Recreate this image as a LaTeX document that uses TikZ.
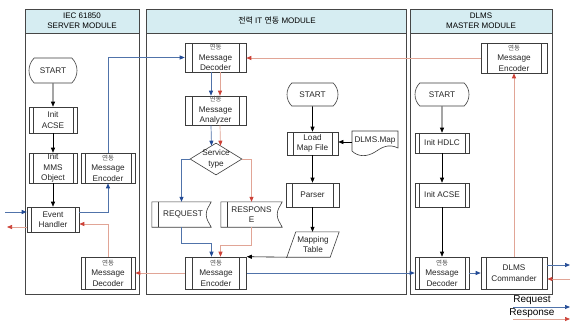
\documentclass[tikz,border=0pt]{standalone}
\usepackage{fontspec}
\setmainfont{Liberation Sans}
\newfontfamily\kr{Noto Sans CJK KR}
\usetikzlibrary{arrows.meta,shapes.misc,shapes.geometric,calc}
\definecolor{hdr}{RGB}{214,237,242}
\definecolor{frame}{RGB}{70,70,70}
\definecolor{boxc}{RGB}{60,60,60}
\definecolor{bline}{RGB}{80,115,170}
\definecolor{bhead}{RGB}{35,75,150}
\definecolor{rline}{RGB}{225,165,150}
\definecolor{rhead}{RGB}{205,65,55}
\definecolor{kgray}{RGB}{80,80,80}
\newcommand\yd{{\kr\fontsize{6.5}{7}\selectfont\color{kgray}연동}}
\tikzset{
  boxtext/.style={font=\fontsize{8.2}{10.5}\selectfont, align=center, text=black!85},
  proc/.style={draw=boxc, line width=0.6pt, rectangle, inner sep=0pt, boxtext,
    path picture={\draw[boxc, line width=0.5pt]
      ([xshift=#1]path picture bounding box.north west) -- ([xshift=#1]path picture bounding box.south west)
      ([xshift=-#1]path picture bounding box.north east) -- ([xshift=-#1]path picture bounding box.south east);}},
  proc/.default=5pt,
  term/.style={draw=boxc, line width=0.6pt, rounded rectangle, rounded rectangle arc length=90,
    inner sep=0pt, boxtext},
  plain/.style={inner sep=0pt, boxtext},
  hdrtext/.style={font=\fontsize{8}{10}\selectfont, align=center},
  panel/.style={draw=frame, line width=0.8pt},
  shapeline/.style={draw=boxc, line width=0.6pt},
  karrow/.style={draw=black, line width=0.6pt, -{Triangle[length=5pt,width=4pt]}},
  barrow/.style={draw=bline, line width=0.7pt, -{Triangle[length=5pt,width=4pt,color=bhead]}},
  rarrow/.style={draw=rline, line width=0.7pt, -{Triangle[length=5pt,width=4pt,color=rhead]}},
}
\begin{document}
\begin{tikzpicture}[x=1pt,y=-1pt]
\useasboundingbox (0,0) rectangle (572,322);
\fill[white] (0,0) rectangle (572,322);

% panels
\draw[panel, fill=hdr] (25,9) rectangle (139,33);
\draw[panel] (25,9) rectangle (139,294);
\draw[panel, fill=hdr] (146,9) rectangle (406,33);
\draw[panel] (146,9) rectangle (406,294);
\draw[panel, fill=hdr] (410,9) rectangle (552,33);
\draw[panel] (410,9) rectangle (552,294);
\node[hdrtext] (hL) at (82,20.5) {IEC 61850\\SERVER MODULE};
\node[hdrtext] (hM) at (277,20.5) {{\kr 전력} IT {\kr 연동} MODULE};
\node[hdrtext] (hR) at (481,20.5) {DLMS\\MASTER MODULE};

% left module
\node[term, minimum width=48pt, minimum height=25pt] (startL) at (53,70.5) {START};
\node[proc=4pt, minimum width=48pt, minimum height=26pt] (acseL) at (53,120) {Init\\ACSE};
\node[proc=4pt, minimum width=48pt, minimum height=30pt] (mmsL) at (53,168) {Init\\MMS\\Object};
\node[proc=4pt, minimum width=54pt, minimum height=30pt] (encL) at (108,168) {\yd\\Message\\Encoder};
\node[proc=4pt, minimum width=52pt, minimum height=25pt] (evt) at (53,219.5) {Event\\Handler};
\node[proc=4pt, minimum width=54pt, minimum height=32pt] (decL) at (108,273) {\yd\\Message\\Decoder};

% middle module
\node[proc=7pt, minimum width=61pt, minimum height=29pt] (decM) at (215.5,57.5) {\yd\\Message\\Decoder};
\node[proc=7pt, minimum width=61pt, minimum height=29pt] (anaM) at (215.5,110.5) {\yd\\Message\\Analyzer};
\node[draw=boxc, line width=0.6pt, diamond, minimum width=52pt, minimum height=32pt, inner sep=0pt] (svc) at (216,159) {};
\node[plain] (svct) at (216,159) {Service\\type};
\node[plain, minimum width=59pt, minimum height=25pt] (req) at (181.5,214.5) {\hspace*{3pt}REQUEST};
\node[plain, minimum width=61pt, minimum height=25pt] (resp) at (251.5,214.5) {RESPONS\\E};
\draw[shapeline] (req.north west) -- (req.north east) to[out=-115,in=90] ([xshift=-5pt]req.east)
  to[out=-90,in=115] (req.south east) -- (req.south west) -- cycle;
\draw[shapeline] ([xshift=6pt]req.north west) -- ([xshift=6pt]req.south west);
\draw[shapeline] (resp.north west) -- (resp.north east) to[out=-115,in=90] ([xshift=-5pt]resp.east)
  to[out=-90,in=115] (resp.south east) -- (resp.south west) -- cycle;
\draw[shapeline] ([xshift=6pt]resp.north west) -- ([xshift=6pt]resp.south west);
\node[proc=7pt, minimum width=61pt, minimum height=32pt] (encM) at (216,273) {\yd\\Message\\Encoder};

\node[term, minimum width=51pt, minimum height=23pt] (startM) at (312.5,94.5) {START};
\node[proc=6pt, minimum width=51pt, minimum height=23pt] (load) at (312.5,143.5) {Load\\Map File};
\node[plain, minimum width=46pt, minimum height=21pt] (dmap) at (375,140) {DLMS.Map};
\draw[shapeline] (352,151) -- (352,131) -- (398,131) -- (398,148)
  .. controls (388,143) and (381,148) .. (375,152)
  .. controls (367,157) and (358,157) .. (352,151);
\node[proc=6pt, minimum width=53pt, minimum height=24pt] (parser) at (312.5,195) {Parser};
\node[plain, minimum width=52pt, minimum height=25pt] (maptab) at (313,244.5) {Mapping\\Table};
\draw[shapeline] ([xshift=9pt]maptab.north west) -- (maptab.north east)
  -- ([xshift=-9pt]maptab.south east) -- (maptab.south west) -- cycle;

% right module
\node[proc=6pt, minimum width=66pt, minimum height=30pt] (encR) at (514,58) {\yd\\Message\\Encoder};
\node[term, minimum width=54pt, minimum height=23pt] (startR) at (442,94.5) {START};
\node[proc=4pt, minimum width=54pt, minimum height=20pt] (hdlc) at (442,143) {Init HDLC};
\node[proc=4pt, minimum width=54pt, minimum height=24pt] (acseR) at (442,195) {Init ACSE};
\node[proc=4pt, minimum width=54pt, minimum height=32pt] (decR) at (442,273) {\yd\\Message\\Decoder};
\node[proc=5pt, minimum width=66pt, minimum height=32pt] (cmd) at (514,273) {DLMS\\Commander};

% black connectors
\draw[karrow] (startL) -- (acseL);
\draw[karrow] (acseL) -- (mmsL);
\draw[karrow] (mmsL) -- (evt);
\draw[karrow] (startM) -- (load);
\coordinate (dmapIn) at (352,142);
\draw[karrow] (dmapIn) -- (dmapIn -| load.east);
\draw[karrow] (load) -- (parser);
\draw[karrow] (parser) -- (parser |- maptab.north);
\draw[karrow] (maptab.south west) -- (encM.north east);
\draw[karrow] (startR) -- (hdlc);
\draw[karrow] (hdlc) -- (acseR);
\draw[karrow] (acseR) -- (decR);

% blue (request) connectors
\coordinate (inB) at (5,212);
\draw[barrow] (inB) -- (inB -| evt.west);
\draw[barrow] (evt.east |- inB) -| (encL.south);
\draw[barrow] (encL.north) |- (decM.west);
\draw[barrow] ([xshift=-4.5pt]decM.south) -- ([xshift=-4.5pt]anaM.north);
\draw[barrow] ([xshift=-4.5pt]anaM.south) -- ([xshift=-4.5pt,yshift=-3pt]svc.north);
\draw[barrow] (svc.west) -| (req.north);
\draw[barrow] (req.south) -- ++(0,16) -| ([xshift=-4.5pt]encM.north);
\draw[barrow] (encM.east) -- (decR.west);
\draw[barrow] (decR.east) -- (cmd.west);
\coordinate (outB) at (570,265);
\draw[barrow] (cmd.east |- outB) -- (outB);

% red (response) connectors
\draw[rarrow] (cmd.north) -- (encR.south);
\draw[rarrow] (encR.west) -- (encR.west -| decM.east);
\draw[rarrow] ([xshift=4.5pt]decM.south) -- ([xshift=4.5pt]anaM.north);
\draw[rarrow] ([xshift=4.5pt]anaM.south) -- ([xshift=4.5pt,yshift=-3pt]svc.north);
\draw[rarrow] (svc.east) -| (resp.north);
\draw[rarrow] (resp.south) -- ++(0,18) -| ([xshift=4.5pt]encM.north);
\draw[rarrow] (encM.west) -- (decL.east);
\coordinate (redEvt) at (79,224);
\draw[rarrow] (decL.north) |- (redEvt -| evt.east);
\coordinate (outR) at (7,227);
\draw[rarrow] (evt.west |- outR) -- (outR);
\coordinate (inR) at (570,279);
\draw[rarrow] (inR) -- (inR -| cmd.east);

% legend
\node[font=\fontsize{10}{12}\selectfont] (lreq) at (532,300) {Request};
\node[font=\fontsize{10}{12}\selectfont] (lresp) at (532,313) {Response};
\coordinate (lb1) at (513,307); \coordinate (lb2) at (570,307);
\coordinate (lr1) at (513,319); \coordinate (lr2) at (570,319);
\draw[barrow] (lb1) -- (lb2);
\draw[rarrow] (lr1) -- (lr2);
\end{tikzpicture}
\end{document}
